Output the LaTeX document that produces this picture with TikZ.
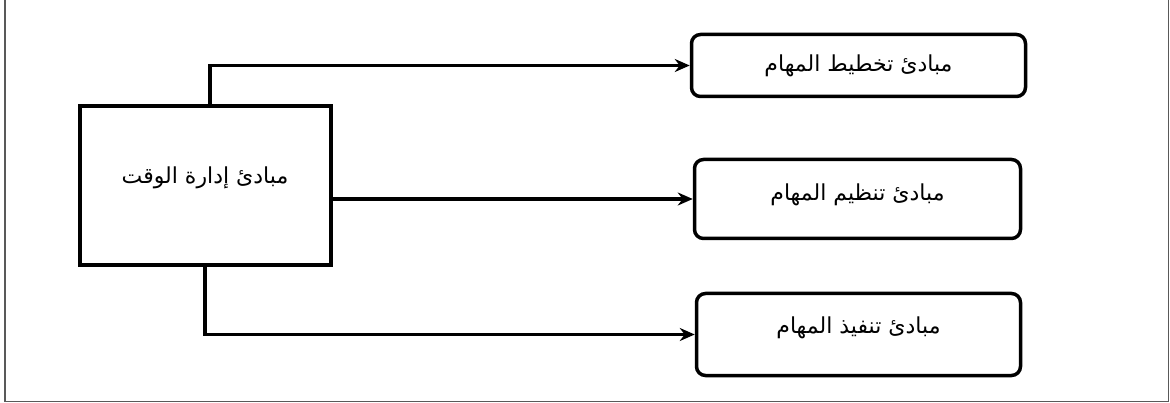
\documentclass[tikz,border=0pt]{standalone}
\usepackage{fontspec}
\usetikzlibrary{arrows,arrows.meta}
\newfontfamily\arabicfont[Script=Arabic]{DejaVu Sans}
\TeXXeTstate=1
\newcommand{\ar}[1]{\arabicfont\beginR #1\endR}
\tikzstyle{mainbox} = [rectangle, draw, line width=4pt, minimum width=251pt, minimum height=159pt, font=\fontsize{22}{26}\selectfont]
\tikzstyle{subbox} = [rectangle, draw, line width=3.5pt, rounded corners=9pt, font=\fontsize{22}{26}\selectfont]
\tikzset{edge/.style = {
    line width=3.8pt,
    -{Stealth[length=15pt,width=13pt]},
  }
}

\begin{document}
\begin{tikzpicture}[x=1pt,y=-1pt]
            \useasboundingbox (0,0) rectangle (1170,403);
            % frame
            \draw[line width=1.5pt, black!65] (5,-5) -- (5,401.5) -- (1168.5,401.5) -- (1168.5,-5);
            % vertices
            \node[mainbox] (main) at (205,186) {\raisebox{21pt}{\ar{مبادئ إدارة الوقت}}};
            \node[subbox, minimum width=334pt, minimum height=62pt] (t1) at (858.5,65.5) {\raisebox{-1pt}{\ar{مبادئ تخطيط المهام}}};
            \node[subbox, minimum width=326pt, minimum height=79pt] (t2) at (857.5,199) {\raisebox{14pt}{\ar{مبادئ تنظيم المهام}}};
            \node[subbox, minimum width=324pt, minimum height=82pt] (t3) at (858.5,334.5) {\raisebox{18pt}{\ar{مبادئ تنفيذ المهام}}};

            %edges
            \draw[edge] ([xshift=5pt]main.north) |- (t1.west);
            \draw[edge] (main.east |- t2.west) -- (t2.west);
            \draw[edge] (main.south) |- (t3.west);
\end{tikzpicture}
\end{document}
